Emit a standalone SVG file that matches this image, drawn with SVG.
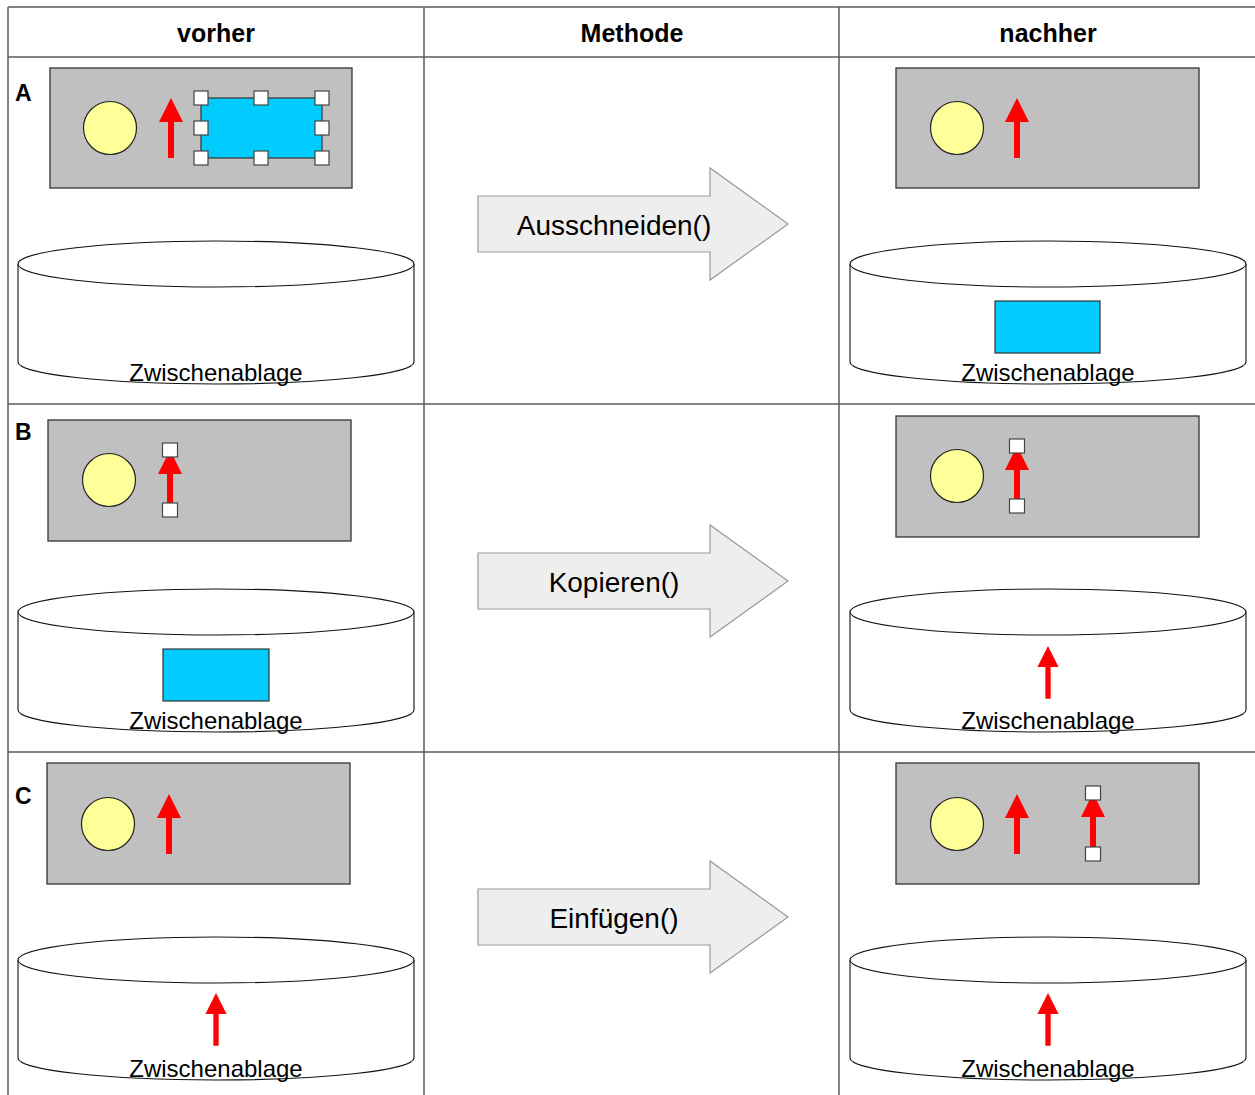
<svg xmlns="http://www.w3.org/2000/svg" xmlns:xlink="http://www.w3.org/1999/xlink" width="1255" height="1095" viewBox="0 0 1255 1095">
<style>
.grid{stroke:#5a5a5a;stroke-width:1.5;fill:none}
.hdr{font-family:"Liberation Sans",Arial,sans-serif;font-weight:bold;font-size:25px;fill:#000;text-anchor:middle}
.lbl{font-family:"Liberation Sans",Arial,sans-serif;font-weight:bold;font-size:23px;fill:#000}
.cyl{font-family:"Liberation Sans",Arial,sans-serif;font-size:24px;fill:#000;text-anchor:middle}
.mth{font-family:"Liberation Sans",Arial,sans-serif;font-size:28px;fill:#000;text-anchor:middle}
.win{fill:#c0c0c0;stroke:#333;stroke-width:1.3}
.sun{fill:#ffff99;stroke:#222;stroke-width:1.2}
.blue{fill:#00ccff;stroke:#333;stroke-width:1.2}
.hd{fill:#fff;stroke:#444;stroke-width:1.2}
.cylb{fill:#fff;stroke:#111;stroke-width:1.1}
.blk{fill:#eeeeee;stroke:#999;stroke-width:1.2}
.red{fill:#ff0000}
</style>
<defs>
<path id="ra" d="M-3,60 V24 H-12 L0,0 L12,24 H3 V60 Z"/>
<g id="cylL">
<path class="cylb" d="M18,264 V362 A198,22 0 0 0 414,362 V264"/>
<ellipse class="cylb" cx="216" cy="264" rx="198" ry="23"/>
</g>
</defs>
<rect x="0" y="0" width="1255" height="1095" fill="#fff"/>
<g id="table">
<line class="grid" x1="8" y1="7" x2="1255" y2="7"/>
<line class="grid" x1="8" y1="57" x2="1255" y2="57"/>
<line class="grid" x1="8" y1="404" x2="1255" y2="404"/>
<line class="grid" x1="8" y1="752" x2="1255" y2="752"/>
<line class="grid" x1="8" y1="7" x2="8" y2="1095"/>
<line class="grid" x1="424" y1="7" x2="424" y2="1095"/>
<line class="grid" x1="839" y1="7" x2="839" y2="1095"/>
<text class="hdr" x="216" y="42">vorher</text>
<text class="hdr" x="632" y="42">Methode</text>
<text class="hdr" x="1048" y="42">nachher</text>
<text class="lbl" x="15" y="101">A</text>
<text class="lbl" x="15" y="440">B</text>
<text class="lbl" x="15" y="804">C</text>
</g>
<g id="rowA-before">
<rect class="win" x="50" y="68" width="302" height="120"/>
<circle class="sun" cx="110" cy="128" r="26.5"/>
<use xlink:href="#ra" class="red" transform="translate(171,98)"/>
<rect class="blue" x="201" y="98" width="121" height="60"/>
<rect class="hd" x="194" y="91" width="14" height="14"/>
<rect class="hd" x="254" y="91" width="14" height="14"/>
<rect class="hd" x="315" y="91" width="14" height="14"/>
<rect class="hd" x="194" y="121" width="14" height="14"/>
<rect class="hd" x="315" y="121" width="14" height="14"/>
<rect class="hd" x="194" y="151" width="14" height="14"/>
<rect class="hd" x="254" y="151" width="14" height="14"/>
<rect class="hd" x="315" y="151" width="14" height="14"/>
<use xlink:href="#cylL"/>
<text class="cyl" x="216" y="381">Zwischenablage</text>
</g>
<g id="rowA-method">
<polygon class="blk" points="478,196 710,196 710,168 788,224 710,280 710,252 478,252"/>
<text class="mth" x="614" y="235">Ausschneiden()</text>
</g>
<g id="rowA-after">
<rect class="win" x="896" y="68" width="303" height="120"/>
<circle class="sun" cx="957" cy="128" r="26.5"/>
<use xlink:href="#ra" class="red" transform="translate(1017,98)"/>
<use xlink:href="#cylL" transform="translate(832,0)"/>
<rect class="blue" x="995" y="301" width="105" height="52"/>
<text class="cyl" x="1048" y="381">Zwischenablage</text>
</g>
<g id="rowB-before">
<rect class="win" x="48" y="420" width="303" height="121"/>
<circle class="sun" cx="109" cy="480" r="26.5"/>
<use xlink:href="#ra" class="red" transform="translate(170,450)"/>
<rect class="hd" x="162.5" y="443" width="15" height="14"/>
<rect class="hd" x="162.5" y="503" width="15" height="14"/>
<use xlink:href="#cylL" transform="translate(0,348)"/>
<rect class="blue" x="163" y="649" width="106" height="52"/>
<text class="cyl" x="216" y="729">Zwischenablage</text>
</g>
<g id="rowB-method">
<polygon class="blk" points="478,553 710,553 710,525 788,581 710,637 710,609 478,609"/>
<text class="mth" x="614" y="592">Kopieren()</text>
</g>
<g id="rowB-after">
<rect class="win" x="896" y="416" width="303" height="121"/>
<circle class="sun" cx="957" cy="476" r="26.5"/>
<use xlink:href="#ra" class="red" transform="translate(1017,446)"/>
<rect class="hd" x="1009.5" y="439" width="15" height="14"/>
<rect class="hd" x="1009.5" y="499" width="15" height="14"/>
<use xlink:href="#cylL" transform="translate(832,348)"/>
<use xlink:href="#ra" class="red" transform="translate(1048,646) scale(0.88)"/>
<text class="cyl" x="1048" y="729">Zwischenablage</text>
</g>
<g id="rowC-before">
<rect class="win" x="47" y="763" width="303" height="121"/>
<circle class="sun" cx="108" cy="824" r="26.5"/>
<use xlink:href="#ra" class="red" transform="translate(169,794)"/>
<use xlink:href="#cylL" transform="translate(0,696)"/>
<use xlink:href="#ra" class="red" transform="translate(216,993) scale(0.88)"/>
<text class="cyl" x="216" y="1077">Zwischenablage</text>
</g>
<g id="rowC-method">
<polygon class="blk" points="478,889 710,889 710,861 788,917 710,973 710,945 478,945"/>
<text class="mth" x="614" y="928">Einfügen()</text>
</g>
<g id="rowC-after">
<rect class="win" x="896" y="763" width="303" height="121"/>
<circle class="sun" cx="957" cy="824" r="26.5"/>
<use xlink:href="#ra" class="red" transform="translate(1017,794)"/>
<use xlink:href="#ra" class="red" transform="translate(1093,793)"/>
<rect class="hd" x="1085.5" y="786" width="15" height="14"/>
<rect class="hd" x="1085.5" y="847" width="15" height="14"/>
<use xlink:href="#cylL" transform="translate(832,696)"/>
<use xlink:href="#ra" class="red" transform="translate(1048,993) scale(0.88)"/>
<text class="cyl" x="1048" y="1077">Zwischenablage</text>
</g>
</svg>
